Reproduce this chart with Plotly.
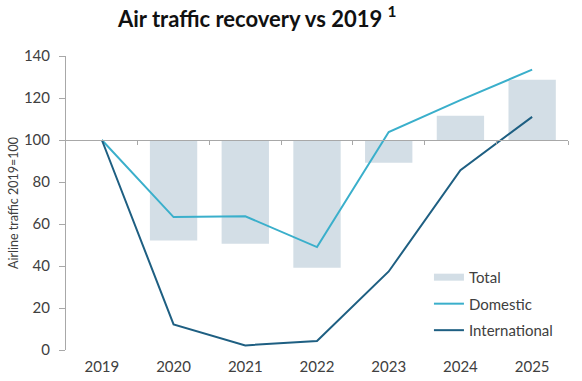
import plotly.graph_objects as go

years = ["2019", "2020", "2021", "2022", "2023", "2024", "2025"]
total = [100, 52.2, 50.6, 39.2, 89.2, 111.6, 128.7]
domestic = [100, 63.3, 63.7, 49.0, 103.8, 119.0, 133.5]
international = [100, 12.2, 2.2, 4.3, 37.4, 85.6, 111.0]
baseline = 100

bar_years = years[1:]
bar_delta = [v - baseline for v in total[1:]]

FONT = "Lato"
BAR_C = "#D3DEE6"
W, H = 582, 381

fig = go.Figure()
fig.add_trace(go.Bar(x=bar_years, y=bar_delta, base=baseline, name="Total",
                     marker=dict(color=BAR_C, line=dict(width=0)), width=0.66,
                     showlegend=False))
# legend proxy for the bars (wide flat swatch)
fig.add_trace(go.Scatter(x=[None], y=[None], mode="lines", name="Total",
                         line=dict(color=BAR_C, width=7), legendgroup="a"))
fig.add_trace(go.Scatter(x=years, y=domestic, mode="lines", name="Domestic",
                         line=dict(color="#3AAFCB", width=2), legendgroup="b"))
fig.add_trace(go.Scatter(x=years, y=international, mode="lines", name="International",
                         line=dict(color="#1E5F82", width=2), legendgroup="c"))
# invisible helper trace for the baseline axis
fig.add_trace(go.Scatter(x=[-0.5, 6.5], y=[baseline, baseline], xaxis="x2", mode="lines",
                         line=dict(width=0), showlegend=False, hoverinfo="skip"))

ymax = 140
fig.update_layout(
    width=W, height=H,
    margin=dict(l=66, r=14, t=56, b=31, autoexpand=False),
    paper_bgcolor="white", plot_bgcolor="white",
    font=dict(family=FONT, size=15, color="#404040"),
    title=dict(text="<b>Air traffic recovery vs 2019 <sup>1</sup></b>", x=118 / W, xanchor="left",
               y=1 - 19 / H, yanchor="middle", font=dict(family=FONT, size=22, color="#111111")),
    showlegend=True,
    legend=dict(x=0.723, y=0.303, xanchor="left", yanchor="top", bgcolor="rgba(0,0,0,0)",
                font=dict(family=FONT, size=15, color="#404040"), traceorder="grouped",
                tracegroupgap=4, itemwidth=30),
    xaxis=dict(type="category", categoryorder="array", categoryarray=years, range=[-0.5, 6.5],
               showline=False, ticks="", showgrid=False, zeroline=False, automargin=False,
               ticklabelstandoff=6, tickfont=dict(size=15, color="#404040")),
    xaxis2=dict(overlaying="x", anchor="free", position=baseline / ymax, range=[-0.5, 6.5],
                showline=True, linecolor="#A8A8A8", linewidth=1, ticks="outside",
                tickvals=[0.5, 1.5, 2.5, 3.5, 4.5, 5.5, 6.5], ticklen=4, tickcolor="#A8A8A8",
                showticklabels=False, showgrid=False, zeroline=False, automargin=False),
    yaxis=dict(range=[0, ymax], tickvals=list(range(0, 141, 20)), showline=True,
               linecolor="#A8A8A8", linewidth=1, ticks="outside", ticklen=6, tickcolor="#A8A8A8",
               showgrid=False, zeroline=False, automargin=False, ticklabelstandoff=6,
               tickfont=dict(size=15, color="#404040"),
               title=dict(text="Airline traffic 2019=100", font=dict(size=12.5, color="#404040"),
                          standoff=2)),
    bargap=0.34,
)
fig.write_html("out.html", config={"displayModeBar": False},
               post_script="document.body.style.margin='0';document.body.style.overflow='hidden';")
